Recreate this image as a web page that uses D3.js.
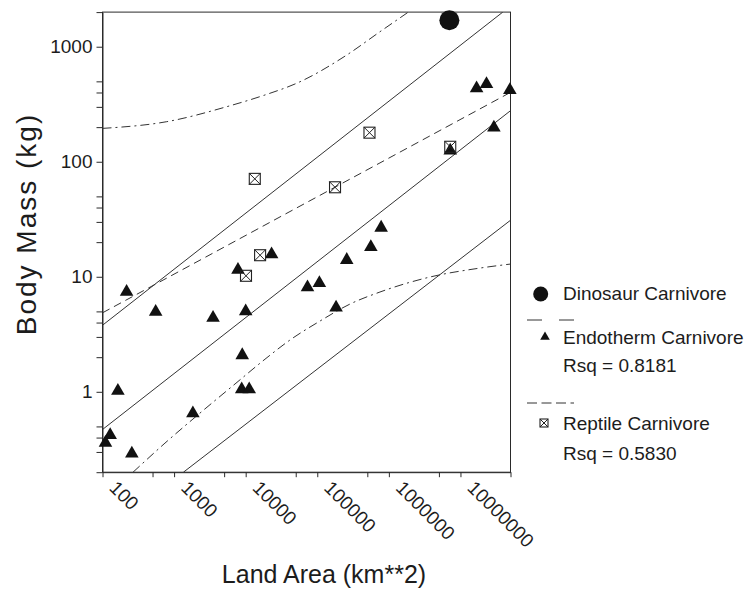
<!DOCTYPE html>
<html>
<head>
<meta charset="utf-8">
<script src="https://cdn.jsdelivr.net/npm/d3@7"></script>
<style>
  body { margin: 0; background: #fff; }
  svg text { font-family: "Liberation Sans", Arial, Helvetica, sans-serif; fill: #1c1c1c; }
</style>
</head>
<body>
<svg id="chart" width="752" height="591"></svg>
<script>
// endotherm carnivores (land area km2, body mass kg)
const endoArea = [217, 553, 3500, 10000, 8950, 164, 8800, 11200, 1830, 128, 110, 257,
                  7800, 23000, 780000, 560000, 258000, 73000, 107000, 183000,
                  1.68e7, 2.31e7, 4.9e7, 2.93e7, 7.2e6];
const endoMass = [7.4, 4.96, 4.4, 5.0, 2.08, 1.02, 1.05, 1.05, 0.65, 0.42, 0.36, 0.29,
                  11.5, 15.7, 26.7, 18.1, 14.0, 8.1, 8.8, 5.4,
                  435, 474, 420, 198, 125];
// reptile carnivores
const reptArea = [13400, 177000, 536000, 7.2e6, 15900, 10100];
const reptMass = [71, 60, 179, 135, 15.4, 10.2];
// dinosaur carnivore
const dinoArea = [7.0e6];
const dinoMass = [1700];

// regression lines
const endoFitArea = [100, 5e7],     endoFitMass = [0.47, 278];
const endoUpArea = [100, 3.9e7],    endoUpMass = [3.79, 2000];
const endoLowArea = [1350, 5e7],    endoLowMass = [0.2, 31];
const reptFitArea = [100, 5e7],     reptFitMass = [4.86, 401];
const reptUpArea = [100, 789, 5430, 19600, 51500, 258000, 751000, 1.87e6];
const reptUpMass = [195, 223, 301, 385, 481, 847, 1350, 2000];
const reptLowArea = [267, 746, 2300, 7100, 18600, 41600, 109000, 286000, 751000, 3.75e6, 1.87e7, 5e7];
const reptLowMass = [0.2, 0.358, 0.653, 1.17, 1.92, 2.82, 4.12, 5.79, 7.37, 9.95, 11.9, 12.9];

// ticks
const xTicks = [100, 500, 1000, 5000, 1e4, 5e4, 1e5, 5e5, 1e6, 5e6, 1e7, 5e7];
const xLabels = [100, 1000, 10000, 100000, 1000000, 10000000];
const yTicks = [0.2, 0.3, 0.4, 0.5, 1, 2, 3, 4, 5, 10, 20, 30, 40, 50, 100, 200, 300, 400, 500, 1000, 2000];
const yLabels = [1, 10, 100, 1000];

const svg = d3.select("#chart");
const x = d3.scaleLog().domain([100, 5e7]).range([102.5, 510.5]);
const y = d3.scaleLog().domain([0.2, 2000]).range([472.2, 12.1]);
const ink = "#2a2a2a";

// axes
const yAxis = svg.append("g")
    .attr("transform", `translate(${x.range()[0]},0)`)
    .call(d3.axisLeft(y).tickValues(yTicks).tickSize(6).tickSizeOuter(0).tickPadding(4)
        .tickFormat(d => yLabels.includes(d) ? d : ""));
yAxis.selectAll("text").attr("font-size", 19).attr("font-family", null);

const xAxis = svg.append("g")
    .attr("transform", `translate(0,${y.range()[0]})`)
    .call(d3.axisBottom(x).tickValues(xTicks).tickSize(5).tickSizeOuter(0)
        .tickFormat(d => xLabels.includes(d) ? d : ""));
xAxis.selectAll("text")
    .attr("font-size", 19).attr("font-family", null)
    .attr("text-anchor", "start")
    .attr("y", 0).attr("dy", "0.35em")
    .attr("transform", "translate(10,12) rotate(45)");

svg.selectAll(".domain, .tick line").attr("stroke", ink);

svg.append("rect")
    .attr("x", x.range()[0]).attr("y", y.range()[1])
    .attr("width", x.range()[1] - x.range()[0])
    .attr("height", y.range()[0] - y.range()[1])
    .attr("fill", "none").attr("stroke", ink);

// lines
svg.append("clipPath").attr("id", "clip").append("rect")
    .attr("x", x.range()[0]).attr("y", y.range()[1])
    .attr("width", x.range()[1] - x.range()[0])
    .attr("height", y.range()[0] - y.range()[1]);

const plot = svg.append("g").attr("clip-path", "url(#clip)");
const line = d3.line().x(d => x(d[0])).y(d => y(d[1]));
const curve = d3.line().x(d => x(d[0])).y(d => y(d[1])).curve(d3.curveMonotoneX);
const pairs = (a, b) => a.map((v, i) => [v, b[i]]);

const lines = [
  {d: line(pairs(endoFitArea, endoFitMass)), dash: null},
  {d: line(pairs(endoUpArea, endoUpMass)), dash: null},
  {d: line(pairs(endoLowArea, endoLowMass)), dash: null},
  {d: line(pairs(reptFitArea, reptFitMass)), dash: "8,5"},
  {d: curve(pairs(reptUpArea, reptUpMass)), dash: "9,4,2,4"},
  {d: curve(pairs(reptLowArea, reptLowMass)), dash: "9,4,2,4"}
];
plot.selectAll("path.fit")
  .data(lines)
  .join("path")
    .attr("class", "fit")
    .attr("d", d => d.d)
    .attr("fill", "none")
    .attr("stroke", "#333")
    .attr("stroke-width", 1)
    .attr("stroke-dasharray", d => d.dash);

// markers
const tri = d3.symbol(d3.symbolTriangle, 80);
svg.append("g").selectAll("path")
  .data(pairs(endoArea, endoMass))
  .join("path")
    .attr("d", tri)
    .attr("transform", d => `translate(${x(d[0])},${y(d[1])})`)
    .attr("fill", "#111");

function boxX(g, s) {
  g.append("rect").attr("x", -s / 2).attr("y", -s / 2).attr("width", s).attr("height", s)
    .attr("fill", "none").attr("stroke", "#222").attr("stroke-width", 1.1);
  g.append("path").attr("d", `M${-s/2},${-s/2}L${s/2},${s/2}M${s/2},${-s/2}L${-s/2},${s/2}`)
    .attr("stroke", "#222").attr("stroke-width", 1);
}
svg.append("g").selectAll("g")
  .data(pairs(reptArea, reptMass))
  .join("g")
    .attr("transform", d => `translate(${x(d[0])},${y(d[1])})`)
    .each(function() { boxX(d3.select(this), 11); });

svg.append("g").selectAll("circle")
  .data(pairs(dinoArea, dinoMass))
  .join("circle")
    .attr("cx", d => x(d[0])).attr("cy", d => y(d[1]))
    .attr("r", 10).attr("fill", "#111");

// titles
svg.append("text")
    .attr("x", 324).attr("y", 583)
    .attr("text-anchor", "middle").attr("font-size", 25)
    .text("Land Area (km**2)");
svg.append("text")
    .attr("transform", "translate(36,224) rotate(-90)")
    .attr("text-anchor", "middle").attr("font-size", 28).attr("letter-spacing", 2)
    .text("Body Mass (kg)");

// legend
const leg = svg.append("g");
leg.append("circle").attr("cx", 540.7).attr("cy", 294).attr("r", 7.5).attr("fill", "#111");
leg.append("text").attr("x", 563).attr("y", 300).attr("font-size", 19).text("Dinosaur Carnivore");
leg.append("line").attr("x1", 527).attr("x2", 575).attr("y1", 320).attr("y2", 320)
    .attr("stroke", "#333").attr("stroke-dasharray", "15,17");
leg.append("path").attr("d", d3.symbol(d3.symbolTriangle, 40)).attr("transform", "translate(545,337)").attr("fill", "#111");
leg.append("text").attr("x", 563).attr("y", 344).attr("font-size", 19).text("Endotherm Carnivore");
leg.append("text").attr("x", 563).attr("y", 372).attr("font-size", 19).text("Rsq = 0.8181");
leg.append("line").attr("x1", 527).attr("x2", 574).attr("y1", 403).attr("y2", 403)
    .attr("stroke", "#333").attr("stroke-dasharray", "10,4.5");
boxX(leg.append("g").attr("transform", "translate(544,423)"), 8);
leg.append("text").attr("x", 563).attr("y", 430).attr("font-size", 19).text("Reptile Carnivore");
leg.append("text").attr("x", 563).attr("y", 460).attr("font-size", 19).text("Rsq = 0.5830");
</script>
</body>
</html>
